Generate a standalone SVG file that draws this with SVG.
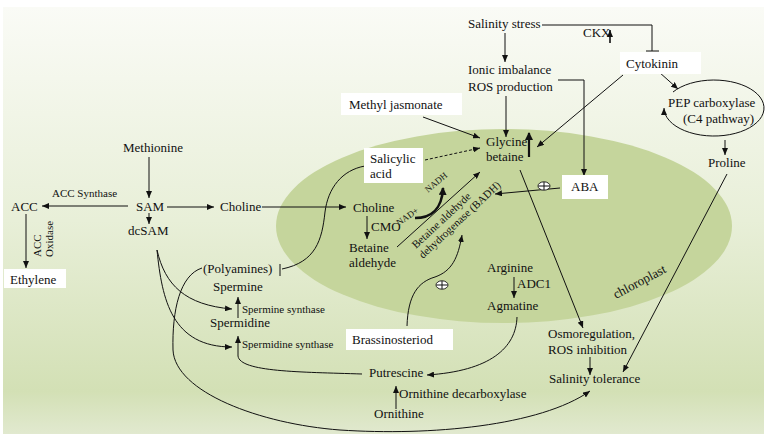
<svg xmlns="http://www.w3.org/2000/svg" width="767" height="438" viewBox="0 0 767 438">
<defs>
<linearGradient id="bg" x1="0" y1="0" x2="0" y2="1">
<stop offset="0" stop-color="#fafbf6"/>
<stop offset="0.5" stop-color="#e8efd8"/>
<stop offset="0.9" stop-color="#d3e0b5"/>
<stop offset="1" stop-color="#e1e9cf"/>
</linearGradient>
<marker id="a" markerUnits="userSpaceOnUse" markerWidth="8" markerHeight="6" refX="7" refY="3" orient="auto"><path d="M0,0 L7,3 L0,6 z" fill="#111"/></marker>
<marker id="at" markerUnits="userSpaceOnUse" markerWidth="8" markerHeight="8" refX="7" refY="4" orient="auto"><path d="M0,0 L8,4 L0,8 z" fill="#111"/></marker>
<style>
text{font-family:"Liberation Serif","Times New Roman",serif;fill:#111;}
.t{font-size:13px;}
.s{font-size:11px;}
.xs{font-size:9px;}
.l{fill:none;stroke:#111;stroke-width:1;}
.ar{marker-end:url(#a);}
.box{fill:#fff;}
.thick{fill:none;stroke:#111;stroke-width:2.2;marker-end:url(#at);}
.plus{fill:#fff;stroke:#111;stroke-width:0.9;}
</style>
</defs>
<rect x="0" y="0" width="767" height="438" fill="#fff"/>
<rect x="3" y="7" width="761" height="427" fill="url(#bg)"/>
<ellipse id="chloroplast" cx="504" cy="226" rx="228" ry="97" fill="#c5d59c"/>
<text class="t" transform="translate(616,299) rotate(-28)">chloroplast</text>

<g id="connectors">
<path class="l" d="M542,25 H652 V51"/>
<line class="l" x1="646" y1="51" x2="659" y2="51"/>
<line class="l" x1="610" y1="43" x2="610" y2="30" style="stroke-width:1.6;marker-end:url(#a)"/>
<line class="l ar" x1="505" y1="33" x2="505" y2="62"/>
<path class="l ar" d="M558,80 H584 V176"/>
<line class="l ar" x1="506" y1="96" x2="506" y2="137"/>
<line class="l ar" x1="623" y1="75" x2="537" y2="147"/>
<line class="l ar" x1="659" y1="72" x2="678" y2="89"/>
<path class="l ar" d="M673,92 A50,28 0 1 1 664,108"/>
<line class="l ar" x1="725" y1="140" x2="725" y2="155"/>
<line class="l ar" x1="727" y1="174" x2="623" y2="372"/>
<line class="l ar" x1="423" y1="117" x2="480" y2="138"/>
<line class="l ar" x1="425" y1="160" x2="480" y2="148" stroke-dasharray="3,2"/>
<line x1="529" y1="157" x2="529" y2="133" class="thick"/>
<path class="l" d="M365,166 C342,170 328,188 325,212 C322,240 316,262 282,269"/>
<line class="l" x1="280" y1="264" x2="280" y2="276"/>
<line class="l ar" x1="149" y1="157" x2="149" y2="198"/>
<line class="l ar" x1="128" y1="206" x2="42" y2="206"/>
<line class="l ar" x1="167" y1="207" x2="214" y2="207"/>
<line class="l ar" x1="149" y1="213" x2="149" y2="224"/>
<line class="l ar" x1="26" y1="214" x2="26" y2="268"/>
<line class="l ar" x1="262" y1="207" x2="346" y2="207"/>
<line class="l ar" x1="367" y1="216" x2="367" y2="239"/>
<line class="l ar" x1="397" y1="247" x2="480" y2="172"/>
<path class="thick" d="M415,218 C430,218 442,210 443,188" style="stroke-width:2.6"/>
<path class="l ar" d="M560,188 L495,194"/>
<line class="l ar" x1="520" y1="170" x2="583" y2="328"/>
<line class="l ar" x1="514" y1="277" x2="514" y2="298"/>
<path class="l ar" d="M517,317 C516,348 490,371 427,375"/>
<path class="l ar" d="M407,326 C408,295 418,282 435,277 C452,271 458,258 462,235"/>
<path class="l ar" d="M157,250 C165,285 185,305 232,309"/>
<path class="l ar" d="M157,250 C162,300 172,347 232,347"/>
<line class="l ar" x1="238" y1="318" x2="238" y2="297"/>
<path class="l ar" d="M362,374 C300,372 240,372 238,356 L238,336"/>
<line class="l ar" x1="396" y1="409" x2="396" y2="386"/>
<path class="l ar" d="M202,268 C180,275 172,310 173,350 C175,392 260,424 340,430 C430,436 540,426 590,391"/>
<line class="l ar" x1="590" y1="357" x2="590" y2="375"/>
</g>

<g id="plus1"><ellipse class="plus" cx="544" cy="186" rx="6" ry="4.2"/><path class="l" d="M538.5,186 H549.5 M544,182 V190"/></g>
<g id="plus2"><ellipse class="plus" cx="442" cy="285" rx="6" ry="4.2"/><path class="l" d="M436.5,285 H447.5 M442,281 V289"/></g>

<g id="salinity-stress"><text class="t" x="468" y="28">Salinity stress</text></g>
<g id="ckx"><text class="t" x="583" y="37">CKX</text></g>
<g id="ionic"><text class="t" x="468" y="74">Ionic imbalance</text><text class="t" x="468" y="91">ROS production</text></g>
<g id="cytokinin"><rect class="box" x="620" y="52" width="81" height="22"/><text class="t" x="626" y="68">Cytokinin</text></g>
<g id="pep"><text class="t" x="668" y="107">PEP carboxylase</text><text class="t" x="683" y="123">(C4 pathway)</text></g>
<g id="proline"><text class="t" x="708" y="167">Proline</text></g>
<g id="methyl-jasmonate"><rect class="box" x="341" y="93" width="121" height="22"/><text class="t" x="349" y="109">Methyl jasmonate</text></g>
<g id="glycine-betaine"><text class="t" x="486" y="146">Glycine</text><text class="t" x="486" y="161">betaine</text></g>
<g id="salicylic-acid"><rect class="box" x="364" y="148" width="59" height="35"/><text class="t" x="370" y="163">Salicylic</text><text class="t" x="370" y="178">acid</text></g>
<g id="aba"><rect class="box" x="562" y="175" width="46" height="24"/><text class="t" x="571" y="191">ABA</text></g>
<g id="methionine"><text class="t" x="123" y="152">Methionine</text></g>
<g id="sam"><text class="t" x="136" y="211">SAM</text></g>
<g id="dcsam"><text class="t" x="128" y="235">dcSAM</text></g>
<g id="acc"><text class="t" x="11" y="211">ACC</text><text class="s" x="52" y="197">ACC Synthase</text>
<text class="s" transform="translate(41,257) rotate(-90)">ACC</text><text class="s" transform="translate(53,257) rotate(-90)">Oxidase</text></g>
<g id="ethylene"><rect class="box" x="4" y="269" width="62" height="19"/><text class="t" x="10" y="284">Ethylene</text></g>
<g id="choline-out"><text class="t" x="220" y="211">Choline</text></g>
<g id="choline-in"><text class="t" x="353" y="212">Choline</text><text class="t" x="371" y="231">CMO</text></g>
<g id="betaine-aldehyde"><text class="t" x="349" y="252">Betaine</text><text class="t" x="349" y="267">aldehyde</text></g>
<g id="badh"><text class="xs" transform="translate(399,226) rotate(-35)">NAD+</text><text class="xs" transform="translate(428,193) rotate(-40)">NADH</text>
<text class="s" transform="translate(416,249) rotate(-43)">Betaine aldehyde</text><text class="s" transform="translate(423,259) rotate(-43)">dehydrogenase (BADH)</text></g>
<g id="arginine"><text class="t" x="487" y="272">Arginine</text><text class="t" x="517" y="288">ADC1</text><text class="t" x="487" y="310">Agmatine</text></g>
<g id="brassinosteriod"><rect class="box" x="346" y="329" width="107" height="21"/><text class="t" x="352" y="344">Brassinosteriod</text></g>
<g id="polyamines"><text class="t" x="203" y="273">(Polyamines)</text><text class="t" x="213" y="291">Spermine</text><text class="s" x="242" y="313">Spermine synthase</text><text class="t" x="210" y="327">Spermidine</text><text class="s" x="242" y="348">Spermidine synthase</text></g>
<g id="putrescine"><text class="t" x="369" y="377">Putrescine</text><text class="t" x="399" y="398">Ornithine decarboxylase</text><text class="t" x="374" y="418">Ornithine</text></g>
<g id="osmoregulation"><text class="t" x="548" y="338">Osmoregulation,</text><text class="t" x="548" y="354">ROS inhibition</text></g>
<g id="salinity-tolerance"><text class="t" x="549" y="383">Salinity tolerance</text></g>
</svg>
